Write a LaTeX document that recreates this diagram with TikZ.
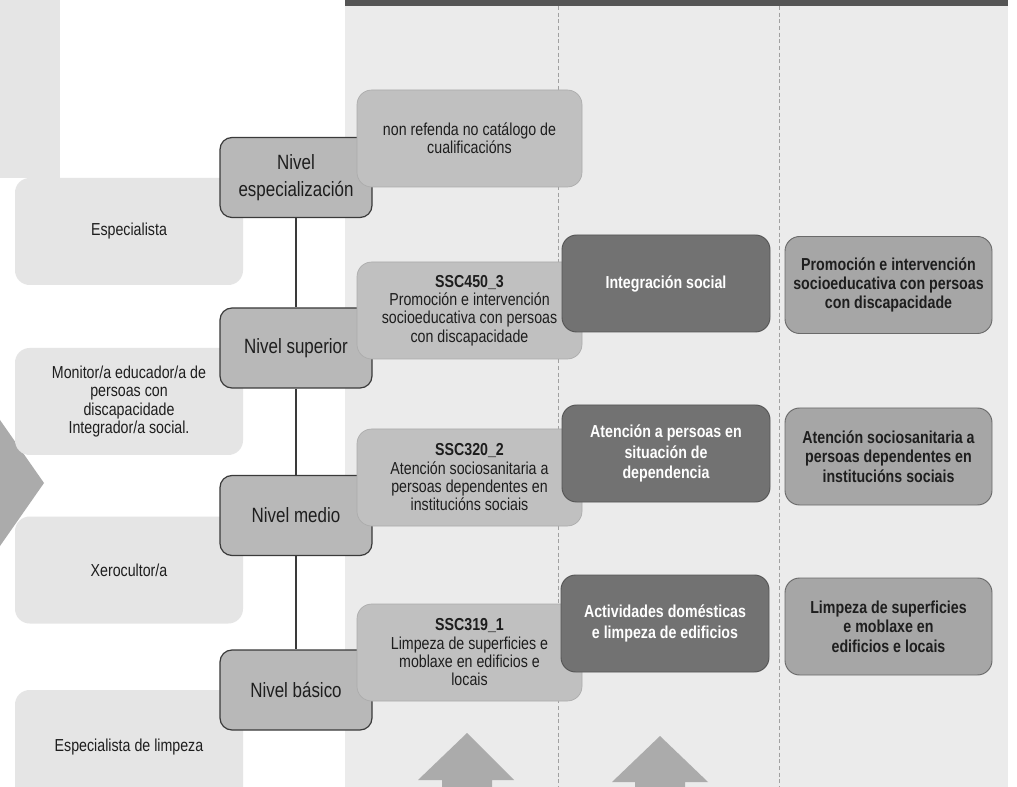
\documentclass[tikz,border=0pt]{standalone}
\usepackage{fontspec}
\setmainfont{Liberation Sans}[FakeStretch=0.82]
\definecolor{bgc}{HTML}{EBEBEB}
\definecolor{bandc}{HTML}{555555}
\definecolor{leftc}{HTML}{E5E5E5}
\definecolor{nivc}{HTML}{B8B8B8}
\definecolor{nivb}{HTML}{3A3A3A}
\definecolor{c2c}{HTML}{C0C0C0}
\definecolor{c2b}{HTML}{ABABAB}
\definecolor{c3c}{HTML}{727272}
\definecolor{c3b}{HTML}{555555}
\definecolor{c4c}{HTML}{A6A6A6}
\definecolor{c4b}{HTML}{6A6A6A}
\definecolor{arrc}{HTML}{ABABAB}
\definecolor{sepc}{HTML}{A0A0A0}
\definecolor{txt}{HTML}{1E1E1E}
\begin{document}
\begin{tikzpicture}[x=0.75pt,y=-0.75pt,
  leftbox/.style={fill=leftc, rounded corners=11pt, align=center, inner sep=0pt,
    minimum width=171pt, minimum height=80.25pt, text=txt,
    font=\fontsize{13}{13.75}\selectfont},
  nivbox/.style={fill=nivc, draw=nivb, line width=0.9pt, rounded corners=9pt,
    align=center, inner sep=0pt, minimum width=114pt, minimum height=60pt, text=txt,
    font=\fontsize{15.5}{20}\selectfont},
  quabox/.style={fill=c2c, draw=c2b, line width=0.5pt, rounded corners=11pt,
    align=center, inner sep=0pt, minimum width=168.75pt, minimum height=72.75pt, text=txt,
    font=\fontsize{13}{13.75}\selectfont},
  titbox/.style={fill=c3c, draw=c3b, line width=0.7pt, rounded corners=11pt,
    align=center, inner sep=0pt, minimum width=156pt, minimum height=72.75pt, text=white,
    font=\bfseries\fontsize{13}{15.5}\selectfont},
  cerbox/.style={fill=c4c, draw=c4b, line width=0.7pt, rounded corners=11pt,
    align=center, inner sep=0pt, minimum width=155.25pt, minimum height=72.75pt, text=txt,
    font=\bfseries\fontsize{13}{14.5}\selectfont},
  sepline/.style={draw=sepc, line width=0.6pt, densely dashed},
  link/.style={draw=nivb, line width=0.9pt}]
\clip (0,0) rectangle (1017,787);
\fill[white] (0,0) rectangle (1017,787);
% background areas
\fill[bgc] (345,0) rectangle (1008,787);
\fill[bandc] (345,0) rectangle (1008,6);
\fill[leftc] (0,0) rectangle (60,178);
\draw[sepline] (558,6) -- (558,787);
\draw[sepline] (779,6) -- (779,787);
% left pointer
\fill[arrc] (0,420) -- (44,483) -- (0,546) -- cycle;
% left column
\node[leftbox] (l1) at (129,231.5) {Especialista};
\node[leftbox] (l2) at (129,401.5) {Monitor/a educador/a de\\persoas con\\discapacidade\\Integrador/a social.};
\node[leftbox] (l3) at (129,570) {Xerocultor/a};
\node[leftbox, minimum height=85.5pt] (l4) at (129,747) {Especialista de limpeza};
% levels
\node[nivbox] (n1) at (296,177.5) {Nivel\\especialización};
\node[nivbox] (n2) at (296,348) {Nivel superior};
\node[nivbox] (n3) at (296,515.5) {Nivel medio};
\node[nivbox] (n4) at (296,690) {Nivel básico};
\draw[link] (n1.south) -- (n2.north);
\draw[link] (n2.south) -- (n3.north);
\draw[link] (n3.south) -- (n4.north);
% qualifications
\node[quabox] (q1) at (469.5,138.5) {non refenda no catálogo de\\cualificacións};
\node[quabox] (q2) at (469.5,310.5) {\textbf{SSC450\_3}\\Promoción e intervención\\socioeducativa con persoas\\con discapacidade};
\node[quabox] (q3) at (469.5,477.5) {\textbf{SSC320\_2}\\Atención sociosanitaria a\\persoas dependentes en\\institucións sociais};
\node[quabox] (q4) at (469.5,652.5) {\textbf{SSC319\_1}\\Limpeza de superficies e\\moblaxe en edificios e\\locais};
% titles
\node[titbox] (t1) at (666,283.5) {Integración social};
\node[titbox] (t2) at (666,453.5) {Atención a persoas en\\situación de\\dependencia};
\node[titbox] (t3) at (665,623.5) {Actividades domésticas\\e limpeza de edificios};
% certificates
\node[cerbox] (c1) at (888.5,285) {Promoción e intervención\\socioeducativa con persoas\\con discapacidade};
\node[cerbox] (c2) at (888.5,456.5) {Atención sociosanitaria a\\persoas dependentes en\\institucións sociais};
\node[cerbox] (c3) at (888.5,626.5) {Limpeza de superficies\\e moblaxe en\\edificios e locais};
% bottom arrows
\fill[arrc] (467,733) -- (514,780) -- (492,780) -- (492,795) -- (442,795) -- (442,780) -- (418,780) -- cycle;
\fill[arrc] (660,736) -- (708,782) -- (685,782) -- (685,795) -- (635,795) -- (635,782) -- (612,782) -- cycle;
\end{tikzpicture}
\end{document}
